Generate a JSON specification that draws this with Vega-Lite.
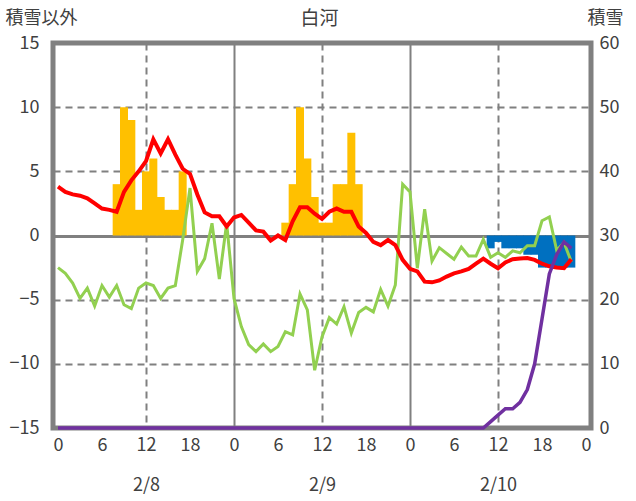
{
  "$schema": "https://vega.github.io/schema/vega-lite/v6.json",
  "width": 538,
  "height": 385,
  "autosize": {"type": "none"},
  "padding": {"left": 53, "top": 43, "right": 45, "bottom": 73},
  "background": "white",
  "config": {"view": {"stroke": "#808080", "strokeWidth": 5}, "font": "Noto Sans CJK JP"},
  "datasets": {
    "rain": [
      {"hour": 8, "value": 4}, {"hour": 9, "value": 10}, {"hour": 10, "value": 9}, {"hour": 11, "value": 2},
      {"hour": 12, "value": 5}, {"hour": 13, "value": 6}, {"hour": 14, "value": 3}, {"hour": 15, "value": 2},
      {"hour": 16, "value": 2}, {"hour": 17, "value": 5},
      {"hour": 31, "value": 1}, {"hour": 32, "value": 4}, {"hour": 33, "value": 10}, {"hour": 34, "value": 6},
      {"hour": 35, "value": 3}, {"hour": 36, "value": 1}, {"hour": 37, "value": 1}, {"hour": 38, "value": 4},
      {"hour": 39, "value": 4}, {"hour": 40, "value": 8}, {"hour": 41, "value": 4}
    ],
    "snowfall": [
      {"hour": 59, "value": -1}, {"hour": 60, "value": -0.5}, {"hour": 61, "value": -1}, {"hour": 62, "value": -1},
      {"hour": 63, "value": -1}, {"hour": 64, "value": -1.5}, {"hour": 65, "value": -1.5}, {"hour": 66, "value": -2.5},
      {"hour": 67, "value": -2.5}, {"hour": 68, "value": -2.5}, {"hour": 69, "value": -2.5}, {"hour": 70, "value": -2.5}
    ],
    "hourly": [
      {"hour": 0, "temp": 3.8, "other": -2.5, "snow": 0},
      {"hour": 1, "temp": 3.4, "other": -2.95, "snow": 0},
      {"hour": 2, "temp": 3.2, "other": -3.7, "snow": 0},
      {"hour": 3, "temp": 3.1, "other": -4.9, "snow": 0},
      {"hour": 4, "temp": 2.9, "other": -4.1, "snow": 0},
      {"hour": 5, "temp": 2.5, "other": -5.5, "snow": 0},
      {"hour": 6, "temp": 2.1, "other": -3.9, "snow": 0},
      {"hour": 7, "temp": 2.0, "other": -4.8, "snow": 0},
      {"hour": 8, "temp": 1.85, "other": -3.9, "snow": 0},
      {"hour": 9, "temp": 3.4, "other": -5.4, "snow": 0},
      {"hour": 10, "temp": 4.3, "other": -5.7, "snow": 0},
      {"hour": 11, "temp": 5.0, "other": -4.1, "snow": 0},
      {"hour": 12, "temp": 5.8, "other": -3.7, "snow": 0},
      {"hour": 13, "temp": 7.5, "other": -3.9, "snow": 0},
      {"hour": 14, "temp": 6.4, "other": -4.9, "snow": 0},
      {"hour": 15, "temp": 7.5, "other": -4.1, "snow": 0},
      {"hour": 16, "temp": 6.3, "other": -3.9, "snow": 0},
      {"hour": 17, "temp": 5.2, "other": -0.35, "snow": 0},
      {"hour": 18, "temp": 4.8, "other": 3.7, "snow": 0},
      {"hour": 19, "temp": 3.2, "other": -2.8, "snow": 0},
      {"hour": 20, "temp": 1.8, "other": -1.8, "snow": 0},
      {"hour": 21, "temp": 1.5, "other": 0.95, "snow": 0},
      {"hour": 22, "temp": 1.5, "other": -3.4, "snow": 0},
      {"hour": 23, "temp": 0.7, "other": 0.95, "snow": 0},
      {"hour": 24, "temp": 1.4, "other": -4.9, "snow": 0},
      {"hour": 25, "temp": 1.6, "other": -7.1, "snow": 0},
      {"hour": 26, "temp": 1.0, "other": -8.5, "snow": 0},
      {"hour": 27, "temp": 0.4, "other": -9.05, "snow": 0},
      {"hour": 28, "temp": 0.3, "other": -8.45, "snow": 0},
      {"hour": 29, "temp": -0.4, "other": -9.05, "snow": 0},
      {"hour": 30, "temp": 0.0, "other": -8.65, "snow": 0},
      {"hour": 31, "temp": -0.35, "other": -7.5, "snow": 0},
      {"hour": 32, "temp": 1.1, "other": -7.75, "snow": 0},
      {"hour": 33, "temp": 2.2, "other": -4.55, "snow": 0},
      {"hour": 34, "temp": 2.2, "other": -5.8, "snow": 0},
      {"hour": 35, "temp": 1.7, "other": -10.5, "snow": 0},
      {"hour": 36, "temp": 1.3, "other": -7.9, "snow": 0},
      {"hour": 37, "temp": 1.85, "other": -6.4, "snow": 0},
      {"hour": 38, "temp": 2.1, "other": -6.9, "snow": 0},
      {"hour": 39, "temp": 1.85, "other": -5.55, "snow": 0},
      {"hour": 40, "temp": 1.85, "other": -7.6, "snow": 0},
      {"hour": 41, "temp": 0.7, "other": -6.0, "snow": 0},
      {"hour": 42, "temp": 0.2, "other": -5.6, "snow": 0},
      {"hour": 43, "temp": -0.5, "other": -5.95, "snow": 0},
      {"hour": 44, "temp": -0.75, "other": -4.2, "snow": 0},
      {"hour": 45, "temp": -0.35, "other": -5.5, "snow": 0},
      {"hour": 46, "temp": -0.75, "other": -3.85, "snow": 0},
      {"hour": 47, "temp": -1.9, "other": 4.0, "snow": 0},
      {"hour": 48, "temp": -2.6, "other": 3.4, "snow": 0},
      {"hour": 49, "temp": -2.8, "other": -2.55, "snow": 0},
      {"hour": 50, "temp": -3.6, "other": 2.05, "snow": 0},
      {"hour": 51, "temp": -3.65, "other": -2.0, "snow": 0},
      {"hour": 52, "temp": -3.5, "other": -0.95, "snow": 0},
      {"hour": 53, "temp": -3.2, "other": -1.4, "snow": 0},
      {"hour": 54, "temp": -2.95, "other": -1.85, "snow": 0},
      {"hour": 55, "temp": -2.8, "other": -0.9, "snow": 0},
      {"hour": 56, "temp": -2.6, "other": -1.6, "snow": 0},
      {"hour": 57, "temp": -2.2, "other": -1.6, "snow": 0},
      {"hour": 58, "temp": -1.8, "other": -0.3, "snow": 0},
      {"hour": 59, "temp": -2.2, "other": -1.7, "snow": 1},
      {"hour": 60, "temp": -2.55, "other": -1.35, "snow": 2},
      {"hour": 61, "temp": -2.1, "other": -1.7, "snow": 3},
      {"hour": 62, "temp": -1.85, "other": -1.2, "snow": 3},
      {"hour": 63, "temp": -1.8, "other": -1.35, "snow": 4},
      {"hour": 64, "temp": -1.75, "other": -0.8, "snow": 6},
      {"hour": 65, "temp": -1.9, "other": -0.8, "snow": 10},
      {"hour": 66, "temp": -2.2, "other": 1.15, "snow": 17},
      {"hour": 67, "temp": -2.4, "other": 1.45, "snow": 24},
      {"hour": 68, "temp": -2.5, "other": -1.15, "snow": 27},
      {"hour": 69, "temp": -2.55, "other": -0.55, "snow": 29},
      {"hour": 70, "temp": -1.85, "other": -2.05, "snow": 28}
    ]
  },
  "layer": [
    {
      "layer": [
        {
          "data": {"name": "rain"},
          "mark": {"type": "bar", "color": "#FFC000", "size": 8},
          "encoding": {
            "x": {
              "field": "hour", "type": "quantitative",
              "scale": {"domain": [0, 72], "nice": false, "zero": false},
              "axis": {
                "values": [0, 6, 12, 18, 24, 30, 36, 42, 48, 54, 60, 66, 72],
                "labelExpr": "datum.value === 12 ? ['12', '2/8'] : datum.value === 36 ? ['12', '2/9'] : datum.value === 60 ? ['12', '2/10'] : '' + (datum.value % 24)",
                "labelLineHeight": 40,
                "labelFontSize": 18,
                "labelColor": "#404040",
                "labelPadding": 8,
                "labelFlush": false,
                "labelBound": false,
                "labelOverlap": false,
                "domain": false,
                "ticks": false,
                "title": "白河",
                "titleX": 266,
                "titleY": -410,
                "titleAlign": "center",
                "titleBaseline": "middle",
                "titleFontSize": 19,
                "titleFontWeight": "normal",
                "titleColor": "#404040",
                "grid": true,
                "gridColor": "#808080",
                "gridOpacity": {"condition": {"test": "datum.value % 12 === 0 && datum.value > 0 && datum.value < 72", "value": 1}, "value": 0},
                "gridDash": {"condition": {"test": "datum.value % 24 === 0", "value": []}, "value": [7, 5]},
                "gridWidth": 2
              }
            },
            "y": {
              "field": "value", "type": "quantitative",
              "scale": {"domain": [-15, 15], "nice": false},
              "axis": {
                "values": [-15, -10, -5, 0, 5, 10, 15],
                "title": "積雪以外",
                "titleAngle": 0,
                "titleX": -48,
                "titleY": -25,
                "titleAlign": "left",
                "titleBaseline": "middle",
                "titleFontSize": 18,
                "titleFontWeight": "normal",
                "titleColor": "#404040",
                "labelFontSize": 18,
                "labelColor": "#404040",
                "labelPadding": 14,
                "labelFlush": false,
                "labelBound": false,
                "labelOverlap": false,
                "domain": false,
                "ticks": false,
                "grid": true,
                "gridColor": "#808080",
                "gridWidth": {"condition": {"test": "datum.value === 0", "value": 3}, "value": 2},
                "gridDash": {"condition": {"test": "datum.value === 0", "value": []}, "value": [7, 5]}
              }
            }
          }
        },
        {
          "data": {"name": "snowfall"},
          "mark": {"type": "bar", "color": "#0070C0", "size": 8},
          "encoding": {
            "x": {"field": "hour", "type": "quantitative", "scale": {"domain": [0, 72], "nice": false, "zero": false}},
            "y": {"field": "value", "type": "quantitative", "scale": {"domain": [-15, 15], "nice": false}}
          }
        },
        {
          "data": {"name": "hourly"},
          "mark": {"type": "line", "color": "#92D050", "strokeWidth": 3},
          "encoding": {
            "x": {"field": "hour", "type": "quantitative", "scale": {"domain": [0, 72], "nice": false, "zero": false}},
            "y": {"field": "other", "type": "quantitative", "scale": {"domain": [-15, 15], "nice": false}}
          }
        },
        {
          "data": {"name": "hourly"},
          "mark": {"type": "line", "color": "#FF0000", "strokeWidth": 4},
          "encoding": {
            "x": {"field": "hour", "type": "quantitative", "scale": {"domain": [0, 72], "nice": false, "zero": false}},
            "y": {"field": "temp", "type": "quantitative", "scale": {"domain": [-15, 15], "nice": false}}
          }
        }
      ]
    },
    {
      "data": {"name": "hourly"},
      "mark": {"type": "line", "color": "#7030A0", "strokeWidth": 3.5},
      "encoding": {
        "x": {"field": "hour", "type": "quantitative", "scale": {"domain": [0, 72], "nice": false, "zero": false}},
        "y": {
          "field": "snow", "type": "quantitative",
          "scale": {"domain": [0, 60], "nice": false},
          "axis": {
            "orient": "right",
            "values": [0, 10, 20, 30, 40, 50, 60],
            "title": "積雪",
            "titleAngle": 0,
            "titleX": -4,
            "titleY": -25,
            "titleAlign": "left",
            "titleBaseline": "middle",
            "titleFontSize": 18,
            "titleFontWeight": "normal",
            "titleColor": "#404040",
            "labelFontSize": 18,
            "labelColor": "#404040",
            "labelPadding": 8,
            "labelFlush": false,
            "labelBound": false,
            "labelOverlap": false,
            "domain": false,
            "ticks": false,
            "grid": false
          }
        }
      }
    }
  ],
  "resolve": {"scale": {"y": "independent"}}
}
